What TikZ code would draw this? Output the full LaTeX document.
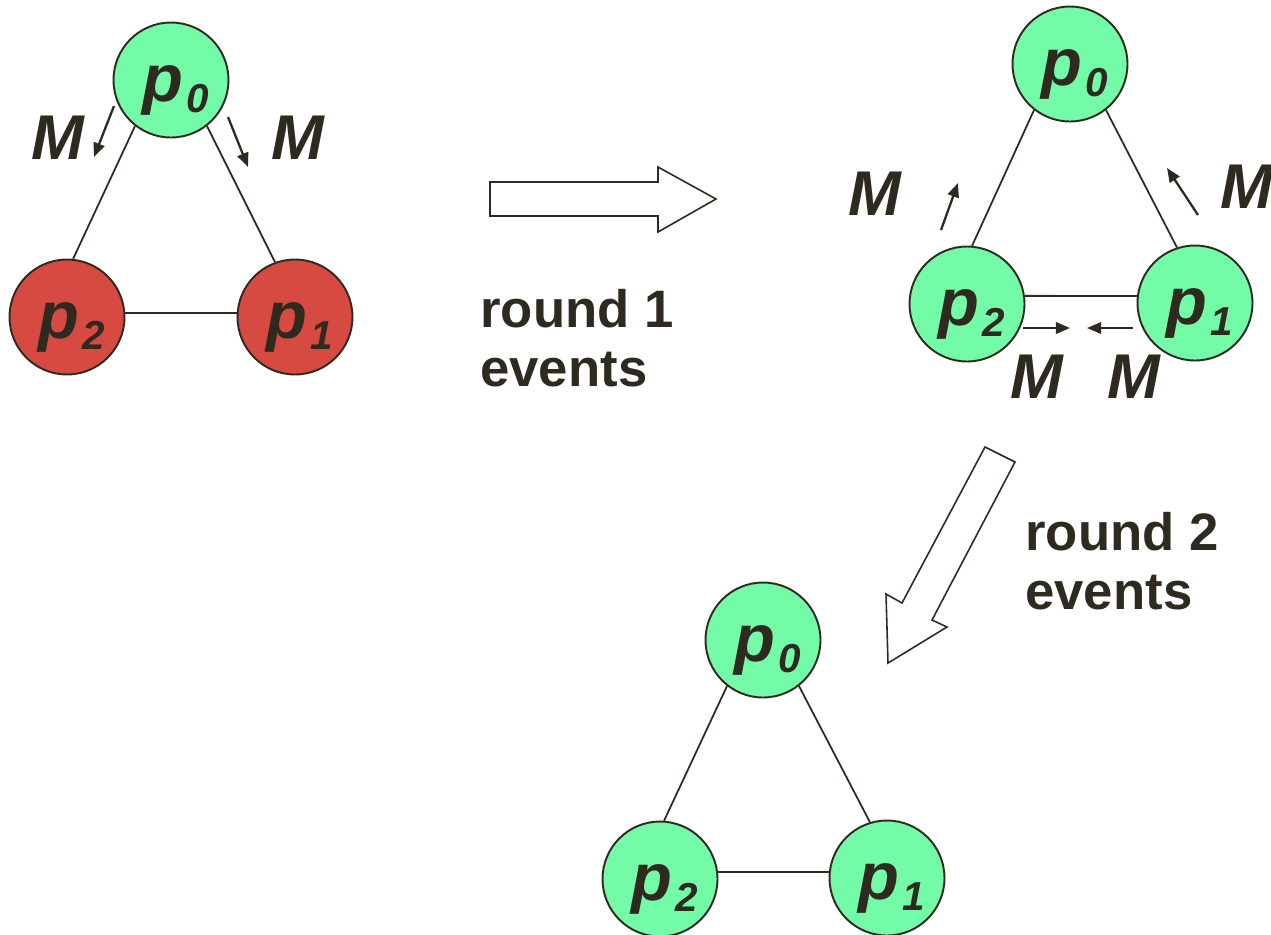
\documentclass[tikz,border=0pt]{standalone}
\usepackage{fontspec}
\setmainfont{Liberation Sans}
\usetikzlibrary{arrows.meta,calc}
\definecolor{ink}{RGB}{46,42,32}
\definecolor{grn}{RGB}{115,251,168}
\definecolor{rd}{RGB}{214,74,66}
\newcommand{\pname}[1]{{\fontsize{38}{38}\selectfont\bfseries\itshape\kern5.6pt p\kern1.5pt\raisebox{-6pt}{\fontsize{23}{23}\selectfont #1}}}
\tikzset{
  proc/.style={circle, draw=ink, line width=1.1pt, minimum size=2.3cm, inner sep=0pt, text=ink, text height=28pt, text depth=3pt},
  msg/.style={font=\fontsize{36}{36}\selectfont\bfseries\itshape, text=ink, inner sep=0pt},
  sarr/.style={draw=ink, line width=1.3pt, -{Triangle[length=8pt,width=6.5pt]}},
  edgeline/.style={draw=ink, line width=1pt},
  bigarrow/.style={draw=ink, fill=white, line width=0.9pt, line join=miter},
  evtxt/.style={font=\fontsize{30}{30}\selectfont\bfseries, text=ink, inner sep=0pt, anchor=base west}
}
\begin{document}
\begin{tikzpicture}[x=0.02cm,y=-0.02cm]
\useasboundingbox (0,0) rectangle (1271,934);

% ---- top-left: initial configuration
\node[proc,fill=grn] (a0) at (171,80) {\pname{0}};
\node[proc,fill=rd] (a2) at (67,317) {\pname{2}};
\node[proc,fill=rd] (a1) at (295,317) {\pname{1}};
\draw[edgeline] (a0.232) -- (a2.84);
\draw[edgeline] (a0.308) -- (a1.110);
\draw[edgeline] (a2.4) -- (a1.176);
\coordinate (a0s1) at (114,106); \coordinate (a0e1) at (94,157);
\coordinate (a0s2) at (228,117); \coordinate (a0e2) at (248,167);
\draw[sarr] (a0s1) -- (a0e1);
\draw[sarr] (a0s2) -- (a0e2);
\node[msg] (am1) at (58,138) {M};
\node[msg] (am2) at (298,138) {M};

% ---- big arrow 1
\draw[bigarrow] (490,182) -- (658,182) -- (658,167) -- (716,199) -- (658,232) -- (658,216) -- (490,216) -- cycle;
\node[evtxt] (r1a) at (480,327) {round 1};
\node[evtxt] (r1b) at (480,386) {events};

% ---- top-right: after round 1
\node[proc,fill=grn] (b0) at (1070,64) {\pname{0}};
\node[proc,fill=grn] (b2) at (967,304) {\pname{2}};
\node[proc,fill=grn] (b1) at (1195,303) {\pname{1}};
\draw[edgeline] (b0.232) -- (b2.85);
\draw[edgeline] (b0.308) -- (b1.108);
\draw[edgeline] (b2.8) -- (b1.173);
\coordinate (bs1) at (941,230); \coordinate (be1) at (958,183);
\coordinate (bs2) at (1198,215); \coordinate (be2) at (1167,168);
\coordinate (bs3) at (1023,328); \coordinate (be3) at (1070,328);
\coordinate (bs4) at (1133,328); \coordinate (be4) at (1087,328);
\draw[sarr] (bs1) -- (be1);
\draw[sarr] (bs2) -- (be2);
\draw[sarr] (bs3) -- (be3);
\draw[sarr] (bs4) -- (be4);
\node[msg] (bm1) at (875,194) {M};
\node[msg] (bm2) at (1247,187) {M};
\node[msg] (bm3) at (1037,377) {M};
\node[msg] (bm4) at (1134,377) {M};

% ---- big arrow 2
\draw[bigarrow] (985,447) -- (1015,462) -- (932,620) -- (947,627) -- (888,663) -- (886,594) -- (902,603) -- cycle;
\node[evtxt] (r2a) at (1025,550) {round 2};
\node[evtxt] (r2b) at (1025,609) {events};

% ---- bottom: after round 2
\node[proc,fill=grn] (c0) at (763,640) {\pname{0}};
\node[proc,fill=grn] (c2) at (660,879) {\pname{2}};
\node[proc,fill=grn] (c1) at (887,878) {\pname{1}};
\draw[edgeline] (c0.232) -- (c2.86);
\draw[edgeline] (c0.308) -- (c1.107);
\draw[edgeline] (c2.7) -- (c1.174);
\end{tikzpicture}
\end{document}
